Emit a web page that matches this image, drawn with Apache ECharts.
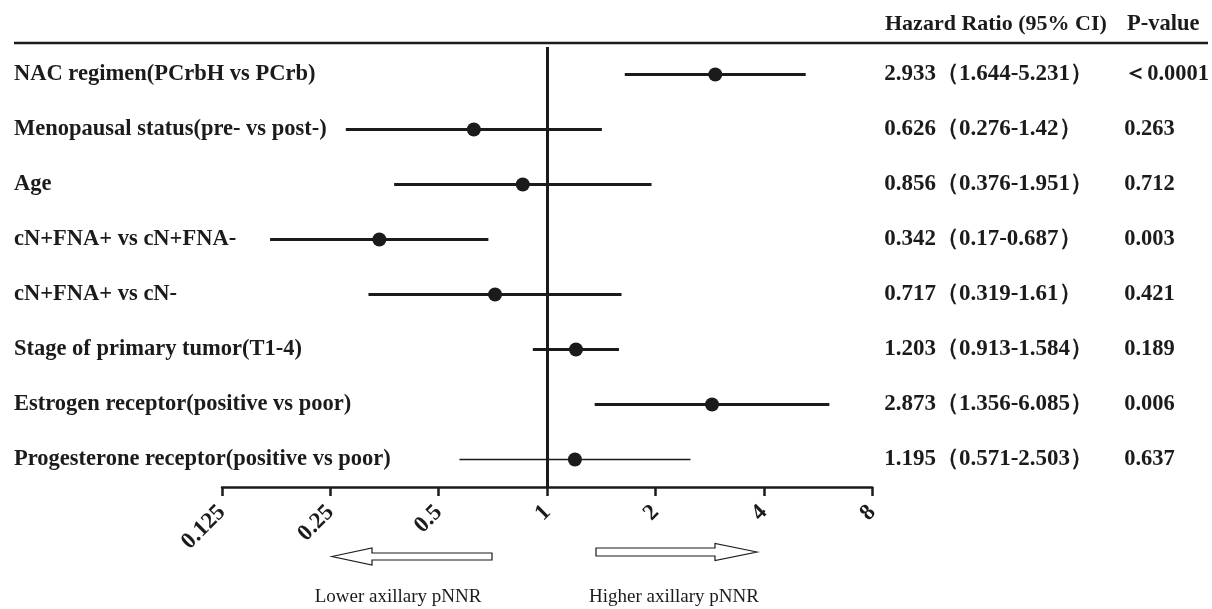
<!DOCTYPE html>
<html>
<head>
<meta charset="utf-8">
<script src="https://cdn.jsdelivr.net/npm/echarts@6/dist/echarts.min.js"></script>
<style>
  html, body { margin: 0; padding: 0; background: #fff; }
  #chart { width: 1212px; height: 609px; }
</style>
</head>
<body>
<div id="chart"></div>
<script>
// ---- data ----
const categories = [
  'NAC regimen(PCrbH vs PCrb)',
  'Menopausal status(pre- vs post-)',
  'Age',
  'cN+FNA+ vs cN+FNA-',
  'cN+FNA+ vs cN-',
  'Stage of primary tumor(T1-4)',
  'Estrogen receptor(positive vs poor)',
  'Progesterone receptor(positive vs poor)'
];
const hazardRatio = [2.933, 0.626, 0.856, 0.342, 0.717, 1.203, 2.873, 1.195];
const ciLow  = [1.644, 0.276, 0.376, 0.17, 0.319, 0.913, 1.356, 0.571];
const ciHigh = [5.231, 1.42, 1.951, 0.687, 1.61, 1.584, 6.085, 2.503];
const pValues = ['＜0.0001', '0.263', '0.712', '0.003', '0.421', '0.189', '0.006', '0.637'];
const tickLabels = ['0.125', '0.25', '0.5', '1', '2', '4', '8'];
const headerHR = 'Hazard Ratio (95% CI)';
const headerP = 'P-value';
const lowerLabel = 'Lower axillary pNNR';
const higherLabel = 'Higher axillary pNNR';

// ---- chart ----
const INK = '#1c1a1b';
const SERIF = '"Liberation Serif", "Times New Roman", serif';
const hrText = hazardRatio.map((v, i) => v + '（' + ciLow[i] + '-' + ciHigh[i] + '）');
const tickValues = tickLabels.map(Number);

const chart = echarts.init(document.getElementById('chart'), null, { renderer: 'canvas' });

const option = {
  backgroundColor: '#fff',
  animation: false,
  grid: { left: 222, right: 339, top: 47, bottom: 122, containLabel: false },
  xAxis: {
    type: 'log',
    logBase: 2,
    min: 0.125,
    max: 8,
    interval: 1,
    splitLine: { show: false },
    axisLine: { show: true, lineStyle: { color: INK, width: 2.5 } },
    axisTick: { show: true, length: 9, lineStyle: { color: INK, width: 2.5 } },
    axisLabel: {
      rotate: 45,
      margin: 22,
      color: INK,
      fontFamily: SERIF,
      fontWeight: 'bold',
      fontSize: 23,
      formatter: function (v) {
        let best = 0, bd = Infinity;
        tickValues.forEach((t, i) => { const d = Math.abs(Math.log2(t) - Math.log2(v)); if (d < bd) { bd = d; best = i; } });
        return tickLabels[best];
      }
    }
  },
  yAxis: [
    {
      type: 'category',
      data: categories,
      inverse: true,
      axisLine: { show: false },
      axisTick: { show: false },
      splitLine: { show: false },
      axisLabel: {
        align: 'left',
        margin: 208,
        color: INK,
        fontFamily: SERIF,
        fontWeight: 'bold',
        fontSize: 22.5
      }
    },
    {
      type: 'category',
      data: hrText,
      inverse: true,
      position: 'right',
      axisLine: { show: false },
      axisTick: { show: false },
      splitLine: { show: false },
      axisLabel: {
        align: 'left',
        margin: 12,
        color: INK,
        fontFamily: SERIF,
        fontWeight: 'bold',
        fontSize: 23
      }
    },
    {
      type: 'category',
      data: pValues,
      inverse: true,
      position: 'right',
      axisLine: { show: false },
      axisTick: { show: false },
      splitLine: { show: false },
      axisLabel: {
        align: 'left',
        margin: 252,
        color: INK,
        fontFamily: SERIF,
        fontWeight: 'bold',
        fontSize: 22.5
      }
    }
  ],
  series: [
    {
      type: 'custom',
      name: 'CI',
      xAxisIndex: 0,
      yAxisIndex: 0,
      data: ciLow.map((lo, i) => [lo, ciHigh[i], i]),
      encode: { x: [0, 1], y: 2 },
      renderItem: function (params, api) {
        const idx = api.value(2);
        const p1 = api.coord([api.value(0), idx]);
        const p2 = api.coord([api.value(1), idx]);
        return {
          type: 'line',
          shape: { x1: p1[0], y1: p1[1], x2: p2[0], y2: p2[1] },
          style: { stroke: INK, lineWidth: params.dataIndex === 7 ? 1.6 : 3 }
        };
      },
      z: 2
    },
    {
      type: 'scatter',
      name: 'HR',
      xAxisIndex: 0,
      yAxisIndex: 0,
      data: hazardRatio.map((v, i) => [v, i]),
      symbol: 'circle',
      symbolSize: 14,
      itemStyle: { color: INK, opacity: 1 },
      markLine: {
        silent: true,
        symbol: 'none',
        label: { show: false },
        lineStyle: { color: INK, width: 3, type: 'solid', opacity: 1 },
        data: [{ xAxis: 1 }]
      },
      z: 3
    }
  ],
  graphic: [
    { type: 'line', shape: { x1: 14, y1: 43, x2: 1208, y2: 43 }, style: { stroke: INK, lineWidth: 2.5 } },
    { type: 'text', x: 885, y: 24, style: { text: headerHR, font: 'bold 22px ' + SERIF, fill: INK, textVerticalAlign: 'middle' } },
    { type: 'text', x: 1127, y: 24, style: { text: headerP, font: 'bold 22.5px ' + SERIF, fill: INK, textVerticalAlign: 'middle' } },
    {
      type: 'polygon',
      shape: { points: [[332, 556.5], [372, 548], [372, 553], [492, 553], [492, 560], [372, 560], [372, 565]] },
      style: { fill: '#fff', stroke: INK, lineWidth: 1.2 }
    },
    {
      type: 'polygon',
      shape: { points: [[757, 552], [715, 543.5], [715, 548], [596, 548], [596, 556], [715, 556], [715, 560.5]] },
      style: { fill: '#fff', stroke: INK, lineWidth: 1.2 }
    },
    { type: 'text', x: 398, y: 597, style: { text: lowerLabel, font: '19px ' + SERIF, fill: INK, textAlign: 'center', textVerticalAlign: 'middle' } },
    { type: 'text', x: 674, y: 597, style: { text: higherLabel, font: '19px ' + SERIF, fill: INK, textAlign: 'center', textVerticalAlign: 'middle' } }
  ]
};

chart.setOption(option);
</script>
</body>
</html>
